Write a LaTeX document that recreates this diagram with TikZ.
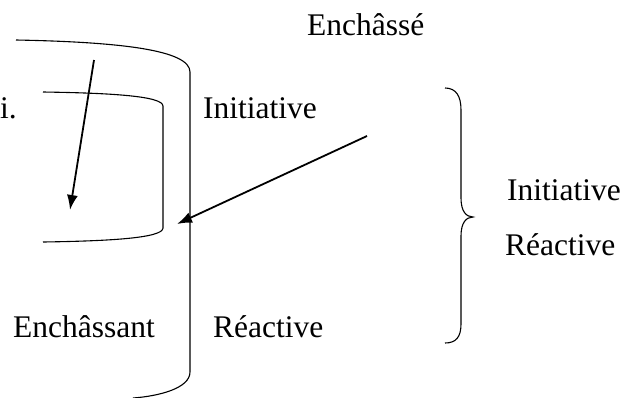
\documentclass[tikz,border=0pt]{standalone}
\usepackage{fontspec}
\setmainfont{Liberation Serif}
\usetikzlibrary{arrows.meta}

\begin{document}
\begin{tikzpicture}[x=1pt,y=-1pt]
	\tikzset{%
		txt/.style={inner sep=0pt,font=\fontsize{31.5}{37}\selectfont},
		bord/.style={line width=1.1pt},
		fleche/.style={-{Latex[length=15pt,width=11pt]},line width=1.8pt},
	}
	\useasboundingbox (0,0) rectangle (631,397);

	% outer and inner frames
	\draw [bord] (16,40) .. controls (120,42) and (190,50) .. (190,72) -- (190,372) .. controls (190,388) and (160,396) .. (133,398);
	\draw [bord] (43,92) .. controls (110,93) and (163,96) .. (163,106) -- (163,228) .. controls (163,238) and (110,241) .. (43,242);

	% brace
	\draw [bord] (445,88) .. controls (456,88) and (461,96) .. (461,110) -- (461,198) .. controls (461,211) and (466,217) .. (473,217)
		.. controls (466,217) and (461,223) .. (461,236) -- (461,324) .. controls (461,337) and (456,343) .. (445,343);

	% labels
	\node[txt,anchor=base west] (enchasse) at (307,35) {Enchâssé};
	\node[txt,anchor=base east] (ri) at (17,118) {ri.};
	\node[txt,anchor=base west] (initA) at (203,118) {Initiative};
	\node[txt,anchor=base west] (initB) at (507,200) {Initiative};
	\node[txt,anchor=base west] (reacB) at (505,255) {Réactive};
	\node[txt,anchor=base west] (enchassant) at (13,337) {Enchâssant};
	\node[txt,anchor=base west] (reacA) at (213,337) {Réactive};

	% arrows
	\coordinate (hautA) at (94,60);
	\coordinate (basA) at (70,210);
	\coordinate (hautB) at (367,136);
	\coordinate (basB) at (177,224);
	\draw [fleche] (hautA) -- (basA);
	\draw [fleche] (hautB) -- (basB);
\end{tikzpicture}
\end{document}
